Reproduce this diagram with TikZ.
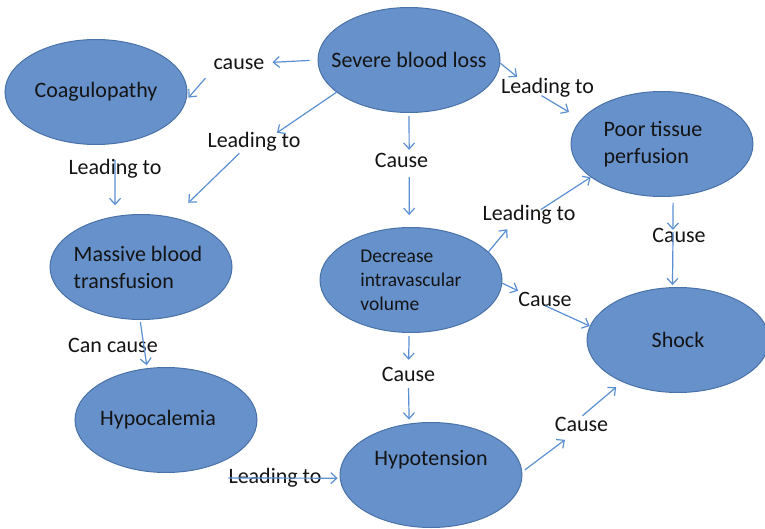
\documentclass[tikz,border=0pt]{standalone}
\usepackage{fontspec}
\setmainfont{Carlito}
\usetikzlibrary{arrows.meta,shapes.geometric}
\definecolor{bubblefill}{HTML}{6691CB}
\definecolor{bubbleedge}{HTML}{4A72A8}
\definecolor{linkblue}{HTML}{5B8FD3}
\definecolor{inkgrey}{HTML}{141414}
\tikzset{
  % blue ellipse; negative inner sep keeps the text from growing the shape
  bubble/.style={ellipse, draw=bubbleedge, line width=1pt, fill=bubblefill,
    minimum width=182pt, minimum height=105pt, inner sep=-20pt,
    text=inkgrey, font=\fontsize{22}{27}\selectfont, align=left},
  tag/.style={inner sep=0pt, text height=15pt, text depth=5pt, text=inkgrey,
    font=\fontsize{22}{26}\selectfont},
  link/.style={draw=linkblue, line width=1.2pt,
    -{Straight Barb[length=6pt,width=11pt]}},
}

\begin{document}
\begin{tikzpicture}[x=1pt,y=-1pt]
  \useasboundingbox (0,0) rectangle (765,529);
  \node[bubble] (sev) at (409,60) {Severe blood loss};
  \node[bubble] (coag) at (96,92) {Coagulopathy};
  \node[bubble] (poor) at (662,144) {Poor tissue\hspace*{18pt}\\perfusion};
  \node[bubble] (mass) at (141,267) {Massive blood\hspace*{6pt}\\transfusion};
  \node[bubble, font=\fontsize{19.5}{24}\selectfont] (decr) at (411,280) {Decrease\\intravascular\\volume};
  \node[bubble] (shock) at (678,340) {Shock};
  \node[bubble] (hypoc) at (166,420) {Hypocalemia\hspace*{16pt}};
  \node[bubble, text depth=35pt] (hypot) at (431,475) {Hypotension};
  % link labels
  \node[tag] (lcause) at (239,65) {cause};
  \node[tag] (lead1) at (254,143) {Leading to};
  \node[tag] (lead2) at (115,170) {Leading to};
  \node[tag] (cause1) at (401.5,163) {Cause};
  \node[tag] (lead3) at (547.5,89) {Leading to};
  \node[tag] (lead4) at (529,216) {Leading to};
  \node[tag] (cause2) at (679,238) {Cause};
  \node[tag] (cause3) at (545,301) {Cause};
  \node[tag] (cause4) at (408.5,376) {Cause};
  \node[tag] (cause5) at (581.5,426) {Cause};
  \node[tag] (cancause) at (113,347) {Can cause};
  \node[tag] (lead5) at (275,478) {Leading to};
  % links
  \draw[link, shorten <=8pt, shorten >=8pt] (sev.180) -- (lcause.5);
  \draw[link, shorten >=3pt] ([shift={(-8pt,-3pt)}]lcause.south west) -- (coag.-5);
  \draw[link] (sev.204) -- (lead1.24);
  \draw[link, shorten >=21pt] (lead1.215) -- (mass.57);
  \draw[link, shorten >=11pt] (lead2.north) -- (mass.117);
  \draw[link, shorten <=3pt, shorten >=3pt] (sev.south) -- (cause1.53);
  \draw[link, shorten <=4pt, shorten >=12pt] (cause1.-53) -- (decr.92);
  \draw[link, shorten >=3pt] (sev.-2) -- (lead3.160);
  \draw[link, shorten <=-7pt, shorten >=14pt] (lead3.south) -- (poor.163);
  \draw[link, shorten >=4pt] (decr.20) -- (lead4.208);
  \draw[link, shorten <=-7pt] (lead4.30) -- (poor.205);
  \draw[link, shorten <=6pt, shorten >=-2pt] (poor.-78) -- (cause2.121);
  \draw[link, shorten <=-16pt, shorten >=2pt] (cause2.-121) -- (shock.96);
  \draw[link] (decr.-2) -- (cause3.north west);
  \draw[link, shorten <=-13pt] (cause3.-40) -- (shock.171);
  \draw[link, shorten <=3pt, shorten >=6pt] (decr.-92) -- (cause4.north);
  \draw[link, shorten <=2pt, shorten >=4pt] (cause4.south) -- (hypot.113);
  \draw[link, shorten <=3pt, shorten >=6pt] (hypot.2) -- (cause5.221);
  \draw[link, shorten >=8pt] (cause5.85) -- (shock.217);
  \draw[link, shorten <=2pt, shorten >=3pt] (mass.-91) -- (hypoc.110);
  \draw[link, shorten >=2pt] (lead5.west) -- (hypot.182);
\end{tikzpicture}
\end{document}
